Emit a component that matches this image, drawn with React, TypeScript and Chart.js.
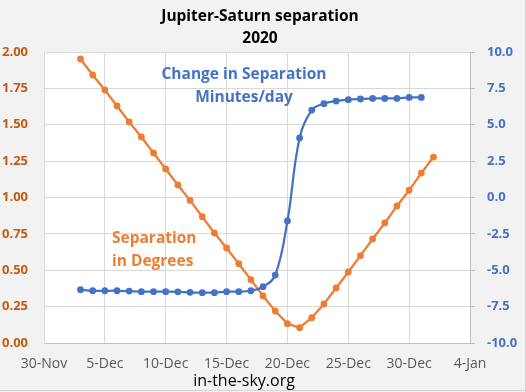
import React, { useEffect, useRef } from "react";
import { Chart, registerables } from "chart.js";

Chart.register(...registerables);

// ---- Data ----
const X_TICK_LABELS = ["30-Nov", "5-Dec", "10-Dec", "15-Dec", "20-Dec", "25-Dec", "30-Dec", "4-Jan"];
const AXIS_START_DATE = "2020-11-30";

const SEPARATION_DATES = [
  "2020-12-03", "2020-12-04", "2020-12-05", "2020-12-06", "2020-12-07", "2020-12-08",
  "2020-12-09", "2020-12-10", "2020-12-11", "2020-12-12", "2020-12-13", "2020-12-14",
  "2020-12-15", "2020-12-16", "2020-12-17", "2020-12-18", "2020-12-19", "2020-12-20",
  "2020-12-21", "2020-12-22", "2020-12-23", "2020-12-24", "2020-12-25", "2020-12-26",
  "2020-12-27", "2020-12-28", "2020-12-29", "2020-12-30", "2020-12-31", "2021-01-01",
];
const SEPARATION_DEG = [
  1.952, 1.842, 1.739, 1.629, 1.519, 1.416, 1.306, 1.196, 1.086, 0.98,
  0.868, 0.756, 0.653, 0.545, 0.435, 0.323, 0.22, 0.133, 0.105, 0.174,
  0.268, 0.378, 0.488, 0.6, 0.715, 0.825, 0.942, 1.05, 1.168, 1.278,
];

const CHANGE_DATES = [
  "2020-12-03", "2020-12-04", "2020-12-05", "2020-12-06", "2020-12-07", "2020-12-08",
  "2020-12-09", "2020-12-10", "2020-12-11", "2020-12-12", "2020-12-13", "2020-12-14",
  "2020-12-15", "2020-12-16", "2020-12-17", "2020-12-18", "2020-12-19", "2020-12-20",
  "2020-12-21", "2020-12-22", "2020-12-23", "2020-12-24", "2020-12-25", "2020-12-26",
  "2020-12-27", "2020-12-28", "2020-12-29", "2020-12-30", "2020-12-31",
];
const CHANGE_MIN_PER_DAY = [
  -6.34, -6.41, -6.41, -6.41, -6.43, -6.47, -6.47, -6.47, -6.48, -6.52,
  -6.54, -6.54, -6.47, -6.47, -6.41, -6.13, -5.33, -1.61, 4.09, 6.01,
  6.45, 6.63, 6.72, 6.77, 6.81, 6.81, 6.81, 6.88, 6.88,
];

const TITLE_LINES = ["Jupiter-Saturn separation", "2020"];
const BLUE_LABEL_LINES = ["Change in Separation", "Minutes/day"];
const ORANGE_LABEL_LINES = ["Separation", "in Degrees"];
const FOOTER = "in-the-sky.org";

const ORANGE = "#ED7D31";
const ORANGE_DARK = "#C55A11";
const BLUE = "#4472C4";
const FONT = "'Open Sans', 'Liberation Sans', sans-serif";

const DAY_MS = 86400000;
const dayIndex = (d: string) => (Date.parse(d) - Date.parse(AXIS_START_DATE)) / DAY_MS;

const decorPlugin = {
  id: "decor",
  beforeDraw(chart: any) {
    const { ctx, chartArea } = chart;
    ctx.save();
    ctx.fillStyle = "#F2F2F2";
    ctx.fillRect(0, 0, chart.width, chart.height);
    ctx.fillStyle = "#FFFFFF";
    ctx.fillRect(chartArea.left, chartArea.top, chartArea.right - chartArea.left, chartArea.bottom - chartArea.top);
    // spreadsheet cell borders
    ctx.strokeStyle = "#D4D4D4";
    ctx.lineWidth = 1;
    ctx.beginPath();
    ctx.moveTo(0, 390.5);
    ctx.lineTo(chart.width, 390.5);
    ctx.moveTo(525.5, 0);
    ctx.lineTo(525.5, chart.height);
    ctx.stroke();
    ctx.restore();
  },
  afterDraw(chart: any) {
    const { ctx } = chart;
    ctx.save();
    ctx.textBaseline = "middle";
    // title
    ctx.fillStyle = "#000000";
    ctx.font = `bold 15.5px ${FONT}`;
    ctx.textAlign = "center";
    ctx.fillText(TITLE_LINES[0], 260, 17);
    ctx.fillText(TITLE_LINES[1], 260, 39);
    // blue label
    ctx.fillStyle = BLUE;
    ctx.font = `bold 15.5px ${FONT}`;
    ctx.fillText(BLUE_LABEL_LINES[0], 244, 75);
    ctx.fillText(BLUE_LABEL_LINES[1], 244, 98);
    // orange label
    ctx.fillStyle = ORANGE;
    ctx.textAlign = "left";
    ctx.fillText(ORANGE_LABEL_LINES[0], 112, 239);
    ctx.fillText(ORANGE_LABEL_LINES[1], 112, 262);
    // footer
    ctx.fillStyle = "#000000";
    ctx.font = `16px ${FONT}`;
    ctx.textAlign = "center";
    ctx.fillText(FOOTER, 244, 381);
    ctx.restore();
  },
};

export default function App() {
  const ref = useRef<HTMLCanvasElement | null>(null);

  useEffect(() => {
    if (!ref.current) return;
    const chart = new Chart(ref.current, {
      type: "line",
      data: {
        datasets: [
          {
            label: "Change in Separation Minutes/day",
            data: CHANGE_DATES.map((d, i) => ({ x: dayIndex(d), y: CHANGE_MIN_PER_DAY[i] })),
            yAxisID: "y1",
            borderColor: BLUE,
            backgroundColor: BLUE,
            borderWidth: 2.25,
            pointRadius: 3.4,
            pointBorderWidth: 0,
            tension: 0.4,
            order: 0,
          },
          {
            label: "Separation in Degrees",
            data: SEPARATION_DATES.map((d, i) => ({ x: dayIndex(d), y: SEPARATION_DEG[i] })),
            yAxisID: "y",
            borderColor: ORANGE,
            backgroundColor: ORANGE,
            borderWidth: 2.25,
            pointRadius: 3.4,
            pointBorderWidth: 0,
            tension: 0,
            order: 1,
          },
        ],
      },
      options: {
        animation: false,
        responsive: false,
        maintainAspectRatio: false,
        layout: { padding: { top: 52, left: 0, right: 0, bottom: 0 } },
        plugins: { legend: { display: false }, title: { display: false }, tooltip: { enabled: false } },
        scales: {
          x: {
            type: "linear",
            min: 0,
            max: 35,
            afterFit: (s: any) => { s.height = 49; },
            grid: { color: "#D9D9D9", drawTicks: false },
            border: { color: "#BFBFBF" },
            ticks: {
              stepSize: 5,
              autoSkip: false,
              maxRotation: 0,
              padding: 13,
              color: "#595959",
              font: { family: FONT, size: 14 },
              callback: (v: any) => X_TICK_LABELS[Math.round(Number(v) / 5)] ?? "",
            },
          },
          y: {
            position: "left",
            min: 0,
            max: 2,
            afterFit: (s: any) => { s.width = 44; },
            grid: { color: "#D9D9D9", drawTicks: false },
            border: { color: "#D9D9D9" },
            ticks: {
              stepSize: 0.25,
              padding: 16,
              color: ORANGE_DARK,
              font: { family: FONT, size: 13, weight: "bold" },
              callback: (v: any) => Number(v).toFixed(2),
            },
          },
          y1: {
            position: "right",
            min: -10,
            max: 10,
            afterFit: (s: any) => { s.width = 56; },
            grid: { drawOnChartArea: false, drawTicks: true, tickLength: 5, color: "#BFBFBF" },
            border: { color: "#BFBFBF" },
            ticks: {
              stepSize: 2.5,
              padding: 12,
              color: BLUE,
              font: { family: FONT, size: 13, weight: "bold" },
              callback: (v: any) => Number(v).toFixed(1),
            },
          },
        },
      },
      plugins: [decorPlugin],
    } as any);
    return () => chart.destroy();
  }, []);

  return (
    <div style={{ position: "fixed", left: 0, top: 0, width: 526, height: 392, background: "#F2F2F2" }}>
      <canvas ref={ref} width={526} height={392} style={{ display: "block", width: 526, height: 392 }} />
    </div>
  );
}
